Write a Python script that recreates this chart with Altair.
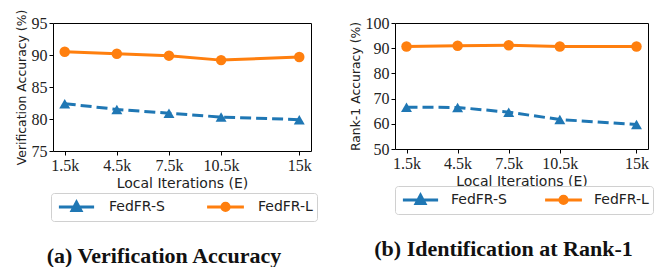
import altair as alt
import pandas as pd

iters = [1.5, 4.5, 7.5, 10.5, 15]
series = ["FedFR-S", "FedFR-L"]
ver_s = [82.4, 81.5, 80.9, 80.3, 79.9]
ver_l = [90.5, 90.2, 89.9, 89.2, 89.7]
rank_s = [66.6, 66.5, 64.6, 61.7, 59.7]
rank_l = [90.7, 91.0, 91.2, 90.7, 90.7]
colors = ["#1f77b4", "#ff7f0e"]

# legend glyphs: short line with the marker in its middle (unit = 8px at symbolSize 256)
PATH_TRI = "M-2.2,0H2.2M0,-0.6L0.55,0.42L-0.55,0.42Z"
PATH_CIR = "M0.45,0A0.45,0.45,0,1,1,-0.45,0A0.45,0.45,0,1,1,0.45,0M-2.3,0H2.3"


def panel(s_vals, l_vals, ydomain, yticks, ytitle, caption, w, h, lx, ly, loff, cpad):
    df = pd.DataFrame({
        "series": [series[0]] * len(iters) + [series[1]] * len(iters),
        "iter": iters + iters,
        "value": s_vals + l_vals,
    })
    base = alt.Chart(df)
    x = alt.X("iter:Q", scale=alt.Scale(domain=[0.825, 15.675], nice=False, zero=False),
              axis=alt.Axis(values=iters, labelExpr="datum.value + 'k'",
                            title="Local Iterations (E)", labelFlush=False))
    y = alt.Y("value:Q", scale=alt.Scale(domain=ydomain, nice=False, zero=False),
              axis=alt.Axis(values=yticks, title=ytitle, titleFontSize=12.4))
    is_s = alt.datum.series == series[0]
    is_l = alt.datum.series == series[1]
    line_s = base.transform_filter(is_s).mark_line(
        strokeWidth=3, color=colors[0], strokeDash=[11, 5]).encode(x=x, y=y)
    line_l = base.transform_filter(is_l).mark_line(
        strokeWidth=3, color=colors[1]).encode(x=x, y=y)
    pts_s = base.transform_filter(is_s).mark_point(
        shape="triangle-up", filled=True, size=120, opacity=1, color=colors[0]).encode(x=x, y=y)
    pts_l = base.transform_filter(is_l).mark_point(
        shape="circle", filled=True, size=110, opacity=1, color=colors[1]).encode(x=x, y=y)
    cscale = alt.Scale(domain=series, range=colors)
    leg = alt.Legend(orient="none", legendX=lx, legendY=ly, direction="horizontal", title=None,
                     symbolSize=256, symbolStrokeWidth=3, symbolOffset=12,
                     labelFont="DejaVu Sans", labelFontSize=14, labelColor="#222",
                     labelOffset=loff, columnPadding=cpad, padding=4,
                     strokeColor="#d0d0d0", cornerRadius=3, fillColor="white")
    # legend-only layer: no marks drawn, entries come from the explicit scale domain
    legend_layer = base.transform_filter("false").mark_point(strokeWidth=3, filled=True, opacity=1).encode(
        x=x, y=y,
        fill=alt.Fill("series:N", scale=cscale, legend=leg),
        stroke=alt.Stroke("series:N", scale=cscale, legend=leg),
        shape=alt.Shape("series:N", scale=alt.Scale(domain=series, range=[PATH_TRI, PATH_CIR]), legend=leg),
    )
    return alt.layer(line_s, line_l, pts_s, pts_l, legend_layer).properties(
        width=w, height=h,
        title=alt.TitleParams(caption, orient="bottom", anchor="middle", dx=-18, offset=24,
                              font="Liberation Serif", fontSize=22, fontWeight="bold", color="#111"),
    )


left = panel(ver_s, ver_l, [75, 95], [75, 80, 85, 90, 95], "Verification Accuracy (%)",
             "(a) Verification Accuracy", 258, 128, -2, 170, 23, 36)
right = panel(rank_s, rank_l, [50, 100], [50, 60, 70, 80, 90, 100], "Rank-1 Accuracy (%)",
              "(b) Identification at Rank-1", 253, 126, 0, 163, 21, 32)

chart = alt.hconcat(left, right, spacing=30).resolve_scale(
    fill="independent", stroke="independent", shape="independent"
).resolve_legend(fill="independent", stroke="independent", shape="independent").properties(
    padding={"left": 6, "top": 0, "right": 5, "bottom": 0}
).configure_view(stroke="black", strokeWidth=1).configure_axis(
    domain=False, grid=False, tickColor="black", tickSize=4, tickWidth=1,
    labelColor="#222", labelFont="Liberation Serif", labelFontSize=16, labelPadding=2,
    titleFont="DejaVu Sans", titleFontSize=14, titleFontWeight="normal", titleColor="#222",
    titlePadding=3,
)

chart.save("out.html", embed_options={"renderer": "svg", "actions": False})
